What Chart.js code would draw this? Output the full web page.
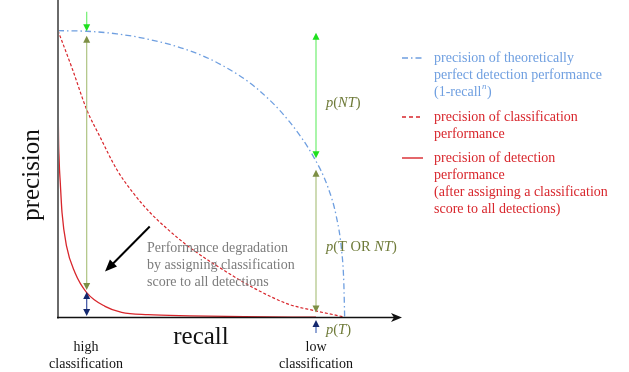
<!DOCTYPE html>
<html>
<head>
<meta charset="utf-8">
<script src="https://cdn.jsdelivr.net/npm/chart.js@4.4.1/dist/chart.umd.min.js"></script>
<style>
  body { margin: 0; background: #fff; }
  #pr-chart { display: block; }
</style>
</head>
<body>
<canvas id="pr-chart" width="629" height="372"></canvas>
<script>
// curves (recall / precision)
const recallPerfect = [0, 0.1, 0.205, 0.32, 0.46, 0.575, 0.692, 0.808, 0.895, 0.941, 0.971, 0.989, 0.997, 1.0];
const precisionPerfect = [1.0, 0.998, 0.989, 0.969, 0.93, 0.878, 0.8, 0.682, 0.554, 0.456, 0.352, 0.237, 0.122, 0];

const recallClass = [0, 0.051, 0.1, 0.146, 0.205, 0.261, 0.321, 0.38, 0.46, 0.575, 0.692, 0.808, 0.895, 0.993];
const precisionClass = [1, 0.864, 0.725, 0.631, 0.516, 0.436, 0.366, 0.31, 0.244, 0.167, 0.098, 0.045, 0.024, 0.003];

const recallDetect = [0, 0.001, 0.004, 0.008, 0.014, 0.03, 0.059, 0.1, 0.164, 0.222, 0.314, 0.46, 0.65, 0.9];
const precisionDetect = [1, 0.72, 0.55, 0.47, 0.366, 0.248, 0.157, 0.087, 0.039, 0.018, 0.01, 0.006, 0.003, 0.001];

// vertical arrows: recall position, start / end precision, kind
const arrowRecall = [0.1, 0.1, 0.1, 0.9, 0.9, 0.9];
const arrowFrom = [1.066, 0.982, 0.089, 0.993, 0.515, -0.054];
const arrowTo = [0.998, 0.096, 0.005, 0.555, 0.017, -0.009];
const arrowKind = ['green1', 'olive', 'navy', 'green', 'olive', 'navy1'];

// degradation arrow (from -> to)
const degradeRecall = [0.32, 0.164];
const degradePrecision = [0.317, 0.16];

const legendLabels = [
  ['precision of theoretically', 'perfect detection performance', '(1-recall'],
  ['precision of classification', 'performance'],
  ['precision of detection', 'performance', '(after assigning a classification', 'score to all detections)']
];

const BLUE = '#6f9fe0';
const RED = '#d8262c';
const OLIVE_TXT = '#6e7a38';
const SERIF = '"Liberation Serif", "DejaVu Serif", serif';

function pts(xs, ys) {
  return xs.map((x, i) => ({ x: x, y: ys[i] }));
}

const arrowStyle = {
  green1: { line: '#7cf07c', head: '#1ee01e', start: false, end: true },
  green: { line: '#7cf07c', head: '#1ee01e', start: true, end: true },
  olive: { line: '#b4c88c', head: '#7d8f45', start: true, end: true },
  navy: { line: '#4a5ea8', head: '#14286e', start: true, end: true },
  navy1: { line: '#5a78c0', head: '#14286e', start: false, end: true }
};

function head(ctx, x, y, dir, color, len, half) {
  // dir: +1 pointing down, -1 pointing up
  ctx.fillStyle = color;
  ctx.beginPath();
  ctx.moveTo(x, y);
  ctx.lineTo(x - half, y - dir * len);
  ctx.lineTo(x + half, y - dir * len);
  ctx.closePath();
  ctx.fill();
}

function rich(ctx, x, y, parts, size, color) {
  ctx.fillStyle = color;
  ctx.textBaseline = 'middle';
  ctx.textAlign = 'left';
  parts.forEach(p => {
    ctx.font = (p[1] ? 'italic ' : '') + size + 'px ' + SERIF;
    ctx.fillText(p[0], x, y);
    x += ctx.measureText(p[0]).width;
  });
  return x;
}

const decor = {
  id: 'decor',
  afterDatasetsDraw(chart) {
    const ctx = chart.ctx;
    const xs = chart.scales.x, ys = chart.scales.y;
    const x0 = xs.getPixelForValue(0), y0 = ys.getPixelForValue(0);
    const xEnd = xs.getPixelForValue(1.2);
    ctx.save();

    // axes
    ctx.strokeStyle = '#6a6a6a';
    ctx.lineWidth = 2;
    ctx.beginPath();
    ctx.moveTo(x0, y0 + 1);
    ctx.lineTo(x0, 0);
    ctx.stroke();
    ctx.strokeStyle = '#111';
    ctx.lineWidth = 1.5;
    ctx.beginPath();
    ctx.moveTo(x0 - 1, y0);
    ctx.lineTo(xEnd - 6, y0);
    ctx.stroke();
    ctx.fillStyle = '#111';
    ctx.beginPath();
    ctx.moveTo(xEnd, y0);
    ctx.lineTo(xEnd - 11, y0 - 4.5);
    ctx.lineTo(xEnd - 8, y0);
    ctx.lineTo(xEnd - 11, y0 + 4.5);
    ctx.closePath();
    ctx.fill();

    // vertical arrows
    arrowRecall.forEach((r, i) => {
      const st = arrowStyle[arrowKind[i]];
      const x = xs.getPixelForValue(r);
      const ya = ys.getPixelForValue(arrowFrom[i]);
      const yb = ys.getPixelForValue(arrowTo[i]);
      const dir = yb > ya ? 1 : -1;
      ctx.strokeStyle = st.line;
      ctx.lineWidth = 1.3;
      ctx.beginPath();
      ctx.moveTo(x, ya + (st.start ? dir * 4 : 0));
      ctx.lineTo(x, yb - dir * 4);
      ctx.stroke();
      if (st.start) head(ctx, x, ya, -dir, st.head, 7, 3.5);
      if (st.end) head(ctx, x, yb, dir, st.head, 7, 3.5);
    });

    // degradation arrow
    const ax = xs.getPixelForValue(degradeRecall[0]), ay = ys.getPixelForValue(degradePrecision[0]);
    const bx = xs.getPixelForValue(degradeRecall[1]), by = ys.getPixelForValue(degradePrecision[1]);
    const ang = Math.atan2(by - ay, bx - ax);
    ctx.strokeStyle = '#000';
    ctx.lineWidth = 2;
    ctx.beginPath();
    ctx.moveTo(ax, ay);
    ctx.lineTo(bx - 8 * Math.cos(ang), by - 8 * Math.sin(ang));
    ctx.stroke();
    ctx.fillStyle = '#000';
    ctx.beginPath();
    ctx.moveTo(bx, by);
    ctx.lineTo(bx - 12 * Math.cos(ang) + 5 * Math.sin(ang), by - 12 * Math.sin(ang) - 5 * Math.cos(ang));
    ctx.lineTo(bx - 12 * Math.cos(ang) - 5 * Math.sin(ang), by - 12 * Math.sin(ang) + 5 * Math.cos(ang));
    ctx.closePath();
    ctx.fill();

    // axis titles
    ctx.fillStyle = '#111';
    ctx.textAlign = 'center';
    ctx.textBaseline = 'middle';
    ctx.font = '25px ' + SERIF;
    ctx.fillText('recall', 201, 337);
    ctx.save();
    ctx.translate(32, 175);
    ctx.rotate(-Math.PI / 2);
    ctx.fillText('precision', 0, 0);
    ctx.restore();
    ctx.font = '14px ' + SERIF;
    ctx.fillText('high', 86, 347);
    ctx.fillText('classification', 86, 364);
    ctx.fillText('low', 316, 347);
    ctx.fillText('classification', 316, 364);

    // note
    ctx.fillStyle = '#7c7c7c';
    ctx.textAlign = 'left';
    ['Performance degradation', 'by assigning classification', 'score to all detections'].forEach((t, i) => {
      ctx.fillText(t, 147, 248 + i * 17);
    });

    // probability labels
    rich(ctx, 326, 103, [['p', true], ['(', false], ['NT', true], [')', false]], 14.5, OLIVE_TXT);
    rich(ctx, 326, 247, [['p', true], ['(T OR ', false], ['NT', true], [')', false]], 14.5, OLIVE_TXT);
    rich(ctx, 326, 330, [['p', true], ['(', false], ['T', true], [')', false]], 14.5, OLIVE_TXT);

    // legend
    const samples = [
      { color: BLUE, dash: [6, 3, 1.5, 3], y: 58 },
      { color: RED, dash: [4, 3], y: 117 },
      { color: RED, dash: [], y: 158 }
    ];
    samples.forEach((s, k) => {
      ctx.strokeStyle = s.color;
      ctx.lineWidth = 1.4;
      ctx.setLineDash(s.dash);
      ctx.beginPath();
      ctx.moveTo(402, s.y);
      ctx.lineTo(423, s.y);
      ctx.stroke();
      ctx.setLineDash([]);
      legendLabels[k].forEach((t, j) => {
        const y = s.y + j * 17;
        if (k === 0 && j === 2) {
          let x = rich(ctx, 434, y, [[t, false]], 14, s.color);
          ctx.font = 'italic 9px ' + SERIF;
          ctx.fillText('n', x + 0.5, y - 5);
          x += ctx.measureText('n').width + 1;
          rich(ctx, x, y, [[')', false]], 14, s.color);
        } else {
          rich(ctx, 434, y, [[t, false]], 14, s.color);
        }
      });
    });
    ctx.restore();
  }
};

new Chart(document.getElementById('pr-chart'), {
  type: 'scatter',
  data: {
    datasets: [
      {
        label: 'precision of theoretically perfect detection performance',
        data: pts(recallPerfect, precisionPerfect),
        showLine: true,
        borderColor: BLUE,
        borderWidth: 1.3,
        borderDash: [6, 3, 1.5, 3],
        pointRadius: 0,
        cubicInterpolationMode: 'monotone'
      },
      {
        label: 'precision of classification performance',
        data: pts(recallClass, precisionClass),
        showLine: true,
        borderColor: RED,
        borderWidth: 1.2,
        borderDash: [3, 2],
        pointRadius: 0,
        cubicInterpolationMode: 'monotone'
      },
      {
        label: 'precision of detection performance',
        data: pts(recallDetect, precisionDetect),
        showLine: true,
        borderColor: RED,
        borderWidth: 1.3,
        pointRadius: 0,
        cubicInterpolationMode: 'monotone'
      }
    ]
  },
  options: {
    responsive: false,
    animation: false,
    clip: false,
    layout: { padding: { left: 58, right: 227, top: 2, bottom: 54.5 } },
    scales: {
      x: { type: 'linear', min: 0, max: 1.2, display: false },
      y: { type: 'linear', min: 0, max: 1.1, display: false }
    },
    plugins: {
      legend: { display: false },
      tooltip: { enabled: false }
    }
  },
  plugins: [decor]
});
</script>
</body>
</html>
